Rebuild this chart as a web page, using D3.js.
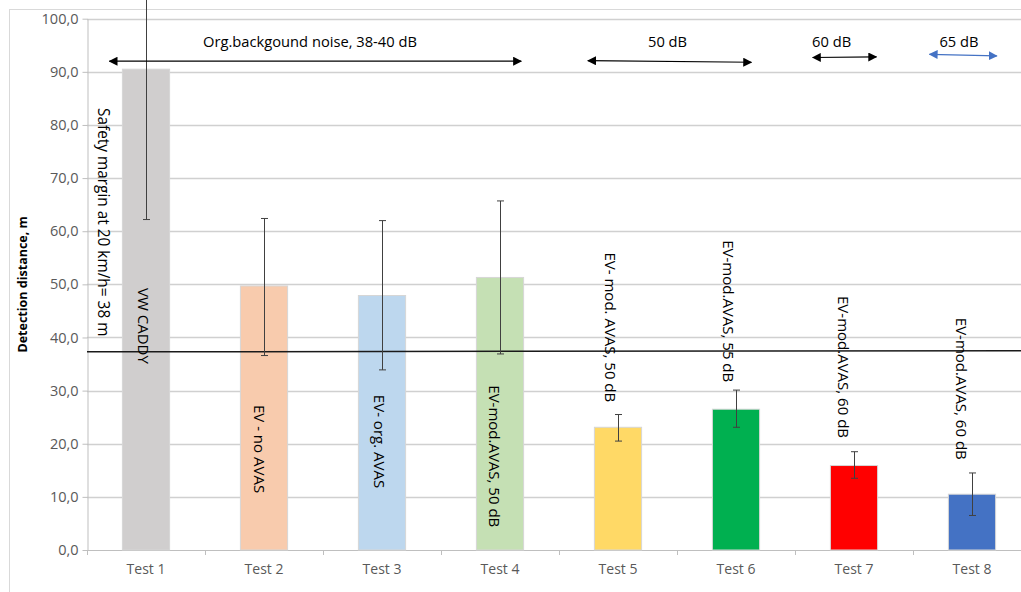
<!DOCTYPE html>
<html><head><meta charset="utf-8">
<script src="https://cdn.jsdelivr.net/npm/d3@7"></script>
<style>
html,body{margin:0;padding:0;background:#fff;}
svg{display:block;font-family:"Open Sans",sans-serif;}
</style></head>
<body><svg id="c" width="1021" height="592"></svg>
<script>
// ---- data ----
const categories = ["Test 1","Test 2","Test 3","Test 4","Test 5","Test 6","Test 7","Test 8"];
const values     = [90.5, 49.7, 47.9, 51.3, 23.1, 26.5, 15.9, 10.5];
const errLow     = [62.2, 36.6, 33.9, 36.9, 20.5, 23.1, 13.5, 6.5];
const errHigh    = [118.8, 62.4, 62.0, 65.7, 25.5, 30.1, 18.5, 14.5];
const barColors  = ["#d0cece","#f8cbad","#bdd7ee","#c5e0b4","#ffd966","#00b050","#ff0000","#4472c4"];
const barLabels  = ["VW CADDY","EV - no AVAS","EV- org. AVAS","EV-mod.AVAS, 50 dB","EV- mod. AVAS, 50 dB","EV-mod.AVAS, 55 dB","EV-mod.AVAS, 60 dB","EV-mod.AVAS, 60 dB"];
const labelStart = [49.3, 27.3, 29.2, 31.0, 56.0, 58.3, 47.8, 43.7]; // value where label text begins
const yTicks     = [0,10,20,30,40,50,60,70,80,90,100];
const safetyLine = {from: 37.3, to: 37.5, label: "Safety margin at 20 km/h= 38 m", labelStart: 83.2};
// noise-level annotations: x in category units (0..8), y in value units
const noiseText  = ["Org.backgound noise, 38-40 dB","50 dB","60 dB","65 dB"];
const noiseX0    = [0.19, 4.245, 6.15, 7.14];
const noiseX1    = [3.68, 5.63, 6.69, 7.71];
const noiseY0    = [92.0, 92.1, 92.7, 93.3];
const noiseY1    = [92.0, 91.8, 92.8, 93.0];
const noiseTextX = [1.89, 4.92, 6.31, 7.39];
const noiseTextY = 94.6;
const noiseColor = ["#000","#000","#000","#4472c4"];

// ---- layout ----
const svg = d3.select("#c");
const pL = 87, pR = 1031, pT = 18.7, pB = 550;
const x = d3.scaleBand().domain(categories).range([pL, pR]).paddingInner(0.6).paddingOuter(0.3);
const xc = d3.scaleLinear().domain([0, categories.length]).range([pL, pR]);
const y = d3.scaleLinear().domain([0, 100]).range([pB, pT]);

// outer border
svg.append("rect").attr("x",9.5).attr("y",9.5).attr("width",1100).attr("height",700)
  .attr("fill","none").attr("stroke","#d9d9d9");

// gridlines
svg.append("g").selectAll("line").data(yTicks.slice(1)).join("line")
  .attr("x1",pL).attr("x2",pR).attr("y1",d=>Math.round(y(d))+0.5).attr("y2",d=>Math.round(y(d))+0.5)
  .attr("stroke","#d0d0d0").attr("stroke-width",1.3);

// y axis
const yAxis = d3.axisLeft(y).tickValues(yTicks).tickSize(5).tickSizeOuter(0)
  .tickFormat(d=>d.toFixed(1).replace(".",","));
const gy = svg.append("g").attr("transform",`translate(${pL+0.5},0)`).call(yAxis);
gy.select(".domain").attr("stroke","#bfbfbf");
gy.selectAll(".tick line").attr("stroke","#bfbfbf");
gy.selectAll(".tick text").attr("fill","#595959").attr("font-size",14.5).attr("font-family","Open Sans").attr("x",-9);

// x axis
const gx = svg.append("g").attr("transform",`translate(0,${pB+0.5})`)
  .call(d3.axisBottom(x).tickSize(0).tickSizeOuter(0));
gx.select(".domain").attr("stroke","#bfbfbf").attr("d",`M${pL},0H${pR}`);
gx.selectAll(".tick text").attr("fill","#595959").attr("font-size",14).attr("font-family","Open Sans").attr("dy","1.45em");
// boundary ticks
svg.append("g").selectAll("line").data(d3.range(0, categories.length+1)).join("line")
  .attr("x1",d=>Math.round(xc(d))+0.5).attr("x2",d=>Math.round(xc(d))+0.5)
  .attr("y1",pB).attr("y2",pB+5).attr("stroke","#bfbfbf");

// bars
svg.append("g").selectAll("rect").data(categories).join("rect")
  .attr("x",d=>x(d)).attr("width",x.bandwidth())
  .attr("y",(d,i)=>y(values[i])).attr("height",(d,i)=>y(0)-y(values[i]))
  .attr("fill",(d,i)=>barColors[i]).attr("stroke","#d6d6d6").attr("stroke-width",1);

// safety line
svg.append("line").attr("x1",pL).attr("x2",pR)
  .attr("y1",y(safetyLine.from)).attr("y2",y(safetyLine.to))
  .attr("stroke","#1a1a1a").attr("stroke-width",1.5);

// error bars
const eb = svg.append("g").attr("stroke","#404040").attr("stroke-width",1);
categories.forEach((c,i)=>{
  const cx = Math.round(x(c)+x.bandwidth()/2)+0.5;
  eb.append("line").attr("x1",cx).attr("x2",cx).attr("y1",y(errLow[i])).attr("y2",y(errHigh[i]));
  eb.append("line").attr("x1",cx-3.5).attr("x2",cx+3.5).attr("y1",y(errLow[i])).attr("y2",y(errLow[i]));
  eb.append("line").attr("x1",cx-3.5).attr("x2",cx+3.5).attr("y1",y(errHigh[i])).attr("y2",y(errHigh[i]));
});

// bar labels (vertical)
const labelDx = [-2,-4,-2,-5,-7,-7,-10,-10];
svg.append("g").selectAll("text").data(barLabels).join("text")
  .attr("transform",(d,i)=>`translate(${x(categories[i])+x.bandwidth()/2+labelDx[i]},${y(labelStart[i])}) rotate(90)`)
  .attr("dominant-baseline","central").attr("font-size",15).attr("fill","#000")
  .text(d=>d);

// safety label
svg.append("text")
  .attr("transform",`translate(${xc(0.138)},${y(safetyLine.labelStart)}) rotate(90)`)
  .attr("dominant-baseline","central").attr("font-size",15.4).attr("fill","#000")
  .text(safetyLine.label);

// y title
svg.append("text").attr("transform",`translate(22,${(pT+pB)/2}) rotate(-90)`)
  .attr("text-anchor","middle").attr("dominant-baseline","central")
  .attr("font-size",12.5).attr("font-weight","bold").attr("fill","#000")
  .text("Detection distance, m");

// noise annotations with double arrows
const defs = svg.append("defs");
noiseColor.forEach((col,i)=>{
  defs.append("marker").attr("id","ah"+i).attr("viewBox","0 0 10 10").attr("refX",9).attr("refY",5)
    .attr("markerWidth",9).attr("markerHeight",9).attr("markerUnits","userSpaceOnUse").attr("orient","auto-start-reverse")
    .append("path").attr("d","M0,0L10,5L0,10Z").attr("fill",col);
});
const ng = svg.append("g");
noiseText.forEach((t,i)=>{
  ng.append("line").attr("x1",xc(noiseX0[i])).attr("x2",xc(noiseX1[i]))
    .attr("y1",y(noiseY0[i])).attr("y2",y(noiseY1[i]))
    .attr("stroke",noiseColor[i]).attr("stroke-width",1.2)
    .attr("marker-start",`url(#ah${i})`).attr("marker-end",`url(#ah${i})`);
  ng.append("text").attr("x",xc(noiseTextX[i])).attr("y",y(noiseTextY))
    .attr("text-anchor","middle").attr("font-size",14.7).attr("fill","#000").text(t);
});
</script>
</body></html>
